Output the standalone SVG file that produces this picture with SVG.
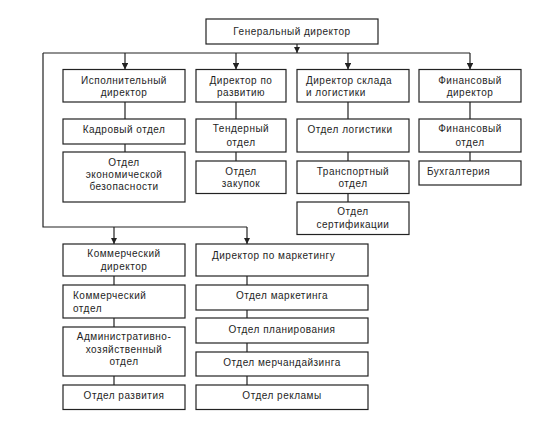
<svg xmlns="http://www.w3.org/2000/svg" width="544" height="427" viewBox="0 0 544 427">
<style>
rect{fill:#fff;stroke:#222;stroke-width:1.2}
text{font-family:"Liberation Sans",Arial,sans-serif;font-size:10px;letter-spacing:0.5px;fill:#1e1e1e}
.c{text-anchor:middle}
#connectors path{fill:none;stroke:#222;stroke-width:1.2}
</style>
<defs>
<marker id="down" viewBox="0 0 8 8" refX="4" refY="8" markerWidth="6.5" markerHeight="6.5" markerUnits="userSpaceOnUse">
<path d="M0,0 L8,0 L4,8 Z" fill="#222"/>
</marker>
</defs>
<rect width="544" height="427" style="fill:#fff;stroke:none"/>
<g id="connectors">
<path d="M297,44 V53" marker-end="url(#down)"/>
<path d="M43,53 H470"/>
<path d="M125,53 V69.5" marker-end="url(#down)"/>
<path d="M236,53 V69.5" marker-end="url(#down)"/>
<path d="M348,53 V69.5" marker-end="url(#down)"/>
<path d="M470,53 V69.5" marker-end="url(#down)"/>
<path d="M43,53 V227 H247"/>
<path d="M114,227 V244" marker-end="url(#down)"/>
<path d="M247,227 V244" marker-end="url(#down)"/>
<path d="M125,102 V119 M125,144 V152"/>
<path d="M236,102 V119 M236,152 V161"/>
<path d="M348,102 V119 M348,152 V161 M348,193 V202"/>
<path d="M470,102 V119 M470,152 V161"/>
<path d="M114,276 V285 M114,318 V327 M114,376 V385"/>
<path d="M247,276 V285 M247,310 V318 M247,343 V352 M247,376 V385"/>
</g>
<g id="gen"><rect x="206" y="19" width="172" height="25"/><text class="c" x="292" y="35">Генеральный директор</text></g>
<g id="isp"><rect x="63" y="69.5" width="122" height="32.5"/><text class="c" x="124" y="83.5">Исполнительный</text><text class="c" x="124" y="95.5">директор</text></g>
<g id="razv"><rect x="196" y="69.5" width="90" height="32.5"/><text class="c" x="241" y="83.5">Директор по</text><text class="c" x="241" y="95.5">развитию</text></g>
<g id="sklad"><rect x="297" y="69.5" width="112" height="32.5"/><text x="306" y="83.5">Директор склада</text><text x="306" y="95.5">и логистики</text></g>
<g id="fin"><rect x="419" y="69.5" width="102" height="32.5"/><text class="c" x="470" y="83.5">Финансовый</text><text class="c" x="470" y="95.5">директор</text></g>
<g id="kadr"><rect x="63" y="119" width="122" height="25"/><text class="c" x="124" y="133">Кадровый отдел</text></g>
<g id="econ"><rect x="63" y="152" width="122" height="50"/><text class="c" x="124" y="166">Отдел</text><text class="c" x="124" y="178">экономической</text><text class="c" x="124" y="190">безопасности</text></g>
<g id="tender"><rect x="196" y="119" width="90" height="33"/><text class="c" x="241" y="132">Тендерный</text><text class="c" x="241" y="145.5">отдел</text></g>
<g id="zakup"><rect x="196" y="161" width="90" height="32.5"/><text class="c" x="241" y="174.5">Отдел</text><text class="c" x="241" y="186.5">закупок</text></g>
<g id="logist"><rect x="297" y="119" width="112" height="33"/><text class="c" x="350" y="133">Отдел логистики</text></g>
<g id="transp"><rect x="297" y="161" width="112" height="32.5"/><text class="c" x="353" y="175">Транспортный</text><text class="c" x="353" y="187">отдел</text></g>
<g id="sert"><rect x="297" y="202" width="112" height="32.5"/><text class="c" x="353" y="215">Отдел</text><text class="c" x="353" y="228">сертификации</text></g>
<g id="finotd"><rect x="419" y="119" width="102" height="33"/><text class="c" x="470" y="132">Финансовый</text><text class="c" x="470" y="145.5">отдел</text></g>
<g id="buh"><rect x="419" y="161" width="102" height="24"/><text x="427" y="175">Бухгалтерия</text></g>
<g id="kom"><rect x="63" y="244" width="122" height="32"/><text class="c" x="124" y="257">Коммерческий</text><text class="c" x="124" y="270">директор</text></g>
<g id="mark"><rect x="196" y="244" width="172" height="32"/><text x="212" y="258.5">Директор по маркетингу</text></g>
<g id="komotd"><rect x="63" y="285" width="122" height="33"/><text x="73" y="298.5">Коммерческий</text><text x="73" y="311.5">отдел</text></g>
<g id="adm"><rect x="63" y="327" width="122" height="49"/><text class="c" x="124" y="340">Административно-</text><text class="c" x="124" y="352.5">хозяйственный</text><text class="c" x="124" y="365">отдел</text></g>
<g id="razvotd"><rect x="63" y="385" width="122" height="24.5"/><text class="c" x="124" y="398.5">Отдел развития</text></g>
<g id="markotd"><rect x="196" y="285" width="172" height="25"/><text class="c" x="282" y="299">Отдел маркетинга</text></g>
<g id="plan"><rect x="196" y="318" width="172" height="25"/><text class="c" x="282" y="332.5">Отдел планирования</text></g>
<g id="merch"><rect x="196" y="352" width="172" height="24"/><text class="c" x="282" y="366">Отдел мерчандайзинга</text></g>
<g id="rekl"><rect x="196" y="385" width="172" height="24.5"/><text class="c" x="282" y="398.5">Отдел рекламы</text></g>
</svg>
